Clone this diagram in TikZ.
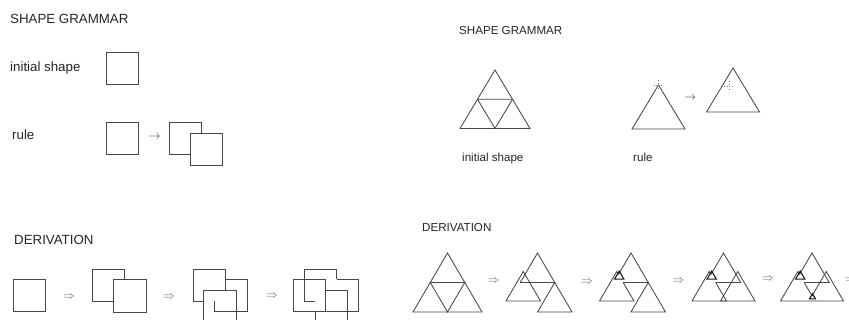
\documentclass[tikz,border=0pt]{standalone}
\usepackage{fontspec}
\setmainfont{Liberation Sans}
\begin{document}
\begin{tikzpicture}[x=1pt,y=-1pt,
  ln/.style={draw=black!72,line width=0.85pt,line join=miter},
  bld/.style={draw=black!90,line width=1.1pt,line join=miter},
  mk/.style={draw=black!50,line width=0.6pt,dotted},
  lbl/.style={inner sep=0pt,anchor=base west,text=black!85},
  lblL/.style={lbl,font=\fontsize{13.3}{15}\selectfont},
  lblR/.style={lbl,font=\fontsize{11.6}{14}\selectfont},
  arr/.style={inner sep=0pt,text=black!60,font=\fontsize{12.5}{12.5}\selectfont}]
\clip (0,0) rectangle (849,320);
\fill[white] (0,0) rectangle (849,320);

% ---------- left: squares ----------
\node[lblL] (sgL) at (10,23.5) {SHAPE GRAMMAR};
\node[lblL] (initL) at (10,71.5) {initial shape};
\node[lblL] (ruleL) at (12,140) {rule};
\node[lblL] (derL) at (14,245) {DERIVATION};

\draw[ln] (106,52) rectangle (138.5,84.5);
\draw[ln] (106,122) rectangle (138.5,154.5);
\node[arr,text=black!75] (raL) at (154.5,137.5) {$\rightarrow$};
\draw[ln] (201.5,133) -- (201.5,122) -- (169,122) -- (169,154.5) -- (190,154.5);
\draw[ln] (190,133) rectangle (222.5,165.5);

% derivation squares
\draw[ln] (13,279) rectangle (45.5,311.5);
\node[arr] (d1) at (69,297) {$\Rightarrow$};
\draw[ln] (124.5,279.5) -- (124.5,269) -- (92,269) -- (92,301.5) -- (113.5,301.5);
\draw[ln] (113.5,279.5) rectangle (146,312);
\node[arr] (d2) at (169,297) {$\Rightarrow$};
\draw[ln] (203.5,301.5) -- (193,301.5) -- (193,269) -- (225.5,269) -- (225.5,290);
\draw[ln] (225.5,279) -- (247,279) -- (247,311.5) -- (214.5,311.5) -- (214.5,301.5);
\draw[ln] (203.5,290) rectangle (236,322.5);
\node[arr] (d3) at (272,296) {$\Rightarrow$};
\draw[ln] (315,301.5) -- (304,301.5) -- (304,269) -- (336.5,269) -- (336.5,279);
\draw[ln] (293,279) rectangle (325.5,311.5);
\draw[ln] (336.5,279) -- (358,279) -- (358,311.5) -- (325.5,311.5);
\draw[ln] (325.5,290) -- (347.5,290) -- (347.5,322.5);
\draw[ln] (315,311.5) -- (315,322.5);

% ---------- right: triangles ----------
\node[lblR] (sgR) at (459,34.3) {SHAPE GRAMMAR};
\node[lblR] (initR) at (462,162) {initial shape};
\node[lblR] (ruleR) at (633,161.5) {rule};
\node[lblR] (derR) at (422,231.7) {DERIVATION};

\draw[ln] (495,70) -- (460,128.5) -- (530,128.5) -- cycle;
\draw[ln] (477.5,99.25) -- (512.5,99.25) -- (495,128.5) -- cycle;

\draw[ln] (658.5,85) -- (632,129) -- (685,129) -- cycle;
\draw[mk] (658.5,80) -- (658.5,90) (653.5,85) -- (663.5,85);
\node[arr,text=black!80] (raR) at (690,98) {$\rightarrow$};
\draw[ln] (733,68) -- (706.5,112) -- (759.5,112) -- cycle;
\draw[mk] (729,81) -- (729,91) (724,86) -- (734,86);

% T1
\begin{scope}[shift={(447.5,253)}]
\draw[ln] (0,0) -- (-34.5,59) -- (34.5,59) -- cycle;
\draw[ln] (-17.25,29.5) -- (17.25,29.5) -- (0,59) -- cycle;
\end{scope}
\node[arr] (t1) at (493.5,281) {$\Rightarrow$};
% T2
\begin{scope}[shift={(537.5,253)}]
\draw[ln] (0,0) -- (-17.25,29.5) -- (17.25,29.5) -- cycle;
\draw[ln] (-14.25,18.5) -- (-31.5,48) -- (3,48) -- cycle;
\draw[ln] (17.25,29.5) -- (0,59) -- (34.5,59) -- cycle;
\end{scope}
\node[arr] (t2) at (587,282) {$\Rightarrow$};
% T3
\begin{scope}[shift={(631,253)}]
\draw[ln] (-12.53,21.44) -- (0,0) -- (17.25,29.5) -- (-7.82,29.5);
\draw[ln] (-12.53,21.44) -- (-14.25,18.5) -- (-31.5,48) -- (3,48) -- (-7.82,29.5);
\draw[ln] (17.25,29.5) -- (0,59) -- (34.5,59) -- cycle;
\draw[bld] (-11.8,18.14) -- (-16.52,26.2) -- (-7.09,26.2) -- cycle;
\end{scope}
\node[arr] (t3) at (678.5,281) {$\Rightarrow$};
% T4
\begin{scope}[shift={(723.5,253)}]
\draw[ln] (-12.53,21.44) -- (0,0) -- (17.25,29.5) -- (-7.82,29.5);
\draw[ln] (-12.53,21.44) -- (-14.25,18.5) -- (-31.5,48) -- (3,48) -- (-7.82,29.5);
\draw[ln] (14.25,18.5) -- (-3,48) -- (31.5,48) -- cycle;
\draw[bld] (-11.8,18.14) -- (-16.52,26.2) -- (-7.09,26.2) -- cycle;
\end{scope}
\node[arr] (t4) at (768,279) {$\Rightarrow$};
% T5
\begin{scope}[shift={(812,253)}]
\draw[ln] (-12.53,21.44) -- (0,0) -- (17.25,29.5) -- (-7.82,29.5);
\draw[ln] (-12.53,21.44) -- (-14.25,18.5) -- (-31.5,48) -- (31.5,48) -- (14.25,18.5) -- (0,42.87);
\draw[ln] (-7.82,29.5) -- (0,42.87);
\draw[bld] (-11.8,18.14) -- (-16.52,26.2) -- (-7.09,26.2) -- cycle;
\draw[bld] (0.46,40.77) -- (-2.54,45.9) -- (3.46,45.9) -- cycle;
\end{scope}
\node[arr,anchor=west] (t5) at (845,280) {$\Rightarrow$};
\end{tikzpicture}
\end{document}
